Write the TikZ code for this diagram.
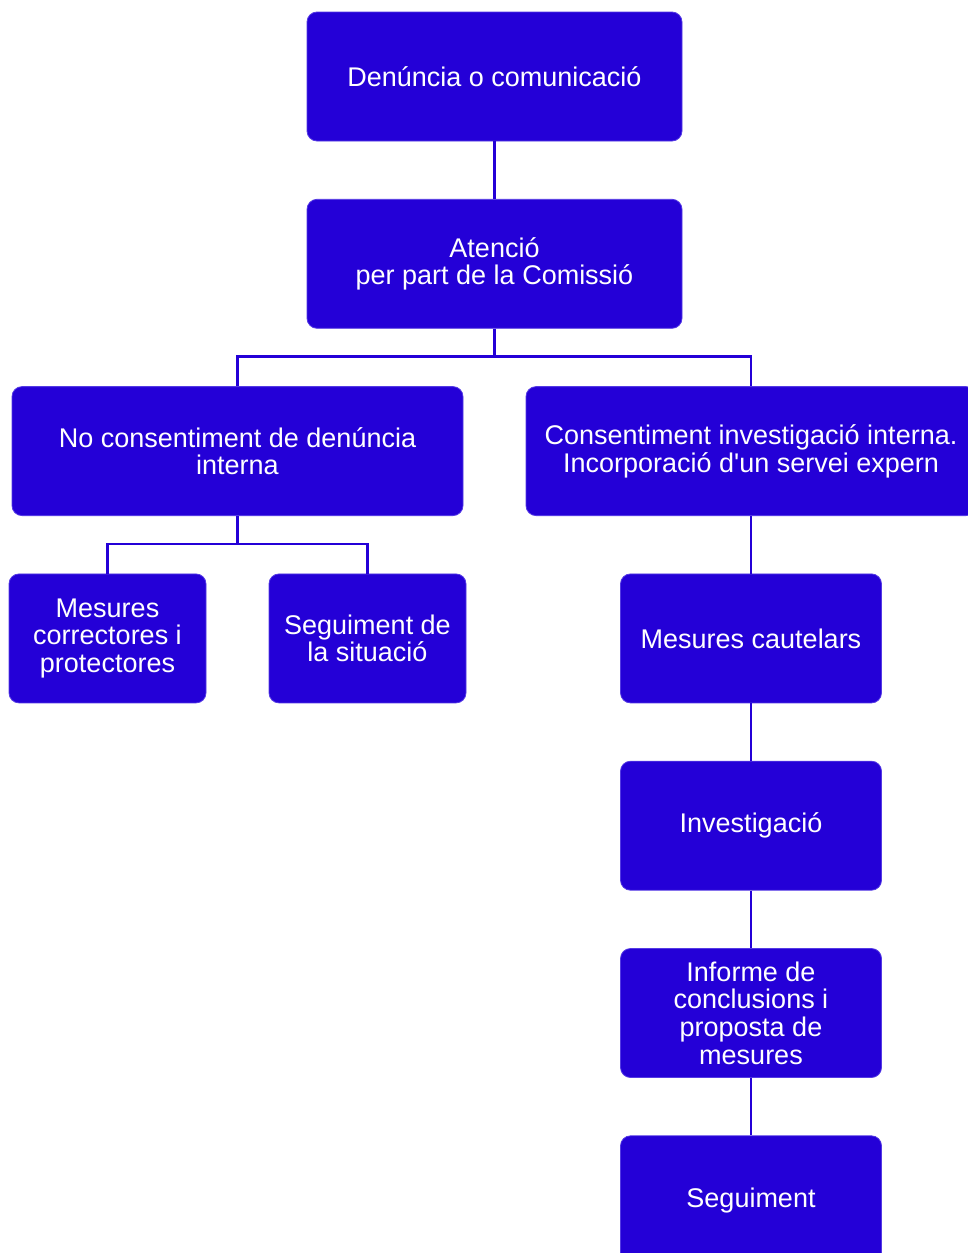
\documentclass[tikz,border=0pt]{standalone}
\usepackage{fontspec}
\setmainfont{Liberation Sans}
\usepackage{tikz}
\usetikzlibrary{positioning, calc}
\definecolor{flowviolet}{RGB}{36,0,215}
\definecolor{flowedge}{RGB}{84,58,228}
\tikzset{
    flowbox/.style={rectangle, draw=flowedge, fill=flowviolet, rounded corners=10pt, minimum width=#1, minimum height=129pt, align=center, text=white, font=\fontsize{27}{27.7}\selectfont, line width=0.8pt, inner sep=4pt},
    flowbox/.default=261pt,
    flowline/.style={draw=flowviolet, line width=2.8pt}
}

\begin{document}
\begin{tikzpicture}[x=1pt, y=1pt, node distance=57.5pt and 60pt]

\useasboundingbox (0,0) rectangle (968,-1253);
\clip (0,0) rectangle (968,-1253);

\node[flowbox=375pt] (denuncia) at (494.5,-76.5) {Denúncia o comunicació};
\node[flowbox=375pt, below=of denuncia] (atencio) {Atenció\\per part de la Comissió};

\node[flowbox=451pt, below=of atencio, xshift=-257pt] (noconsent) {No consentiment de denúncia\\interna};
\node[flowbox=450pt, below=of atencio, xshift=256.5pt] (consent) {Consentiment investigació interna.\\Incorporació d\textquotesingle un servei expern};

\node[flowbox=197pt, below=of noconsent, xshift=-130pt] (correctores) {Mesures\\correctores i\\protectores};
\node[flowbox=197pt, below=of noconsent, xshift=130pt] (situacio) {Seguiment de\\la situació};

\node[flowbox, below=of consent] (cautelars) {Mesures cautelars};
\node[flowbox, below=of cautelars] (investigacio) {Investigació};
\node[flowbox, below=of investigacio] (informe) {Informe de\\conclusions i\\proposta de\\mesures};
\node[flowbox, below=of informe] (seguiment) {Seguiment};

\draw[flowline] (denuncia) -- (atencio);

\draw[flowline] (atencio.south) -- ++(0pt,-28pt) coordinate (split1);
\draw[flowline] (split1) -| (noconsent.north);
\draw[flowline] (split1) -| (consent.north);

\draw[flowline] (noconsent.south) -- ++(0pt,-28pt) coordinate (split2);
\draw[flowline] (split2) -| (correctores.north);
\draw[flowline] (split2) -| (situacio.north);

\draw[flowline] (consent) -- (cautelars);
\draw[flowline] (cautelars) -- (investigacio);
\draw[flowline] (investigacio) -- (informe);
\draw[flowline] (informe) -- (seguiment);

\end{tikzpicture}
\end{document}
